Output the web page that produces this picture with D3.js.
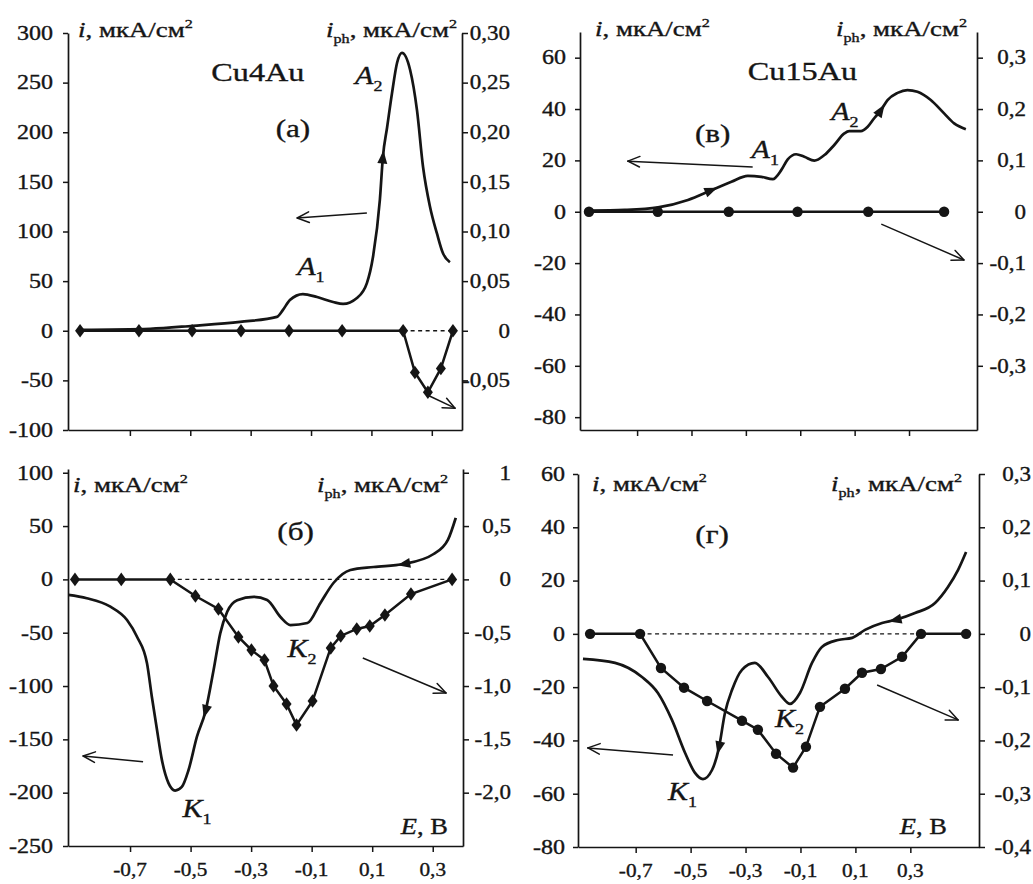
<!DOCTYPE html>
<html><head><meta charset="utf-8">
<script src="https://cdn.jsdelivr.net/npm/d3@7"></script>
<style>body{margin:0;background:#fff} svg{display:block}</style>
</head><body>
<svg id="c" width="1033" height="884"></svg>
<script>
// ---------------- DATA ----------------
const xTicks = [-0.7, -0.5, -0.3, -0.1, 0.1, 0.3];
const xTickLabels = ["-0,7", "-0,5", "-0,3", "-0,1", "0,1", "0,3"];

// Panel (а) Cu4Au anodic
const aLeftTicks = [300, 250, 200, 150, 100, 50, 0, -50, -100];
const aLeftLabels = ["300", "250", "200", "150", "100", "50", "0", "-50", "-100"];
const aRightTicks = [0.30, 0.25, 0.20, 0.15, 0.10, 0.05, 0, -0.05];
const aRightLabels = ["0,30", "0,25", "0,20", "0,15", "0,10", "0,05", "0", "-0,05"];
const aCurrent = [[-0.865,1],[-0.633,2],[-0.491,5],[-0.335,9],[-0.213,14],[-0.193,21],[-0.17,31],[-0.127,37],
  [-0.08,34],[-0.027,29],[0.006,27],[0.052,33],[0.085,48],[0.105,74],[0.128,132],[0.138,175],[0.152,205],
  [0.168,239],[0.185,270],[0.201,280],[0.228,263],[0.251,222],[0.271,165],[0.294,125],[0.317,98],[0.337,78],[0.36,69]];
const aPhoto = [[-0.865,0],[-0.67,0],[-0.494,0],[-0.332,0],[-0.173,0],[0.003,0],[0.205,0],[0.244,-0.042],
  [0.287,-0.062],[0.33,-0.038],[0.37,0]];
const aDash = [0.205, 0.37];
const aDirArrows = [[0.138, 1]];
const aPointers = [[[0.085,118.6],[-0.146,113.6]], [[0.287,-65],[0.377,-78]]];

// Panel (в) Cu15Au anodic
const vLeftTicks = [60, 40, 20, 0, -20, -40, -60, -80];
const vLeftLabels = ["60", "40", "20", "0", "-20", "-40", "-60", "-80"];
const vRightTicks = [0.3, 0.2, 0.1, 0, -0.1, -0.2, -0.3];
const vRightLabels = ["0,3", "0,2", "0,1", "0", "-0,1", "-0,2", "-0,3"];
const vCurrent = [[-0.877,0.4],[-0.745,0.7],[-0.623,1.7],[-0.513,4.6],[-0.427,8.4],[-0.353,11.7],[-0.293,14.0],
  [-0.243,13.6],[-0.201,12.7],[-0.17,16.2],[-0.146,20.4],[-0.115,22.4],[-0.085,21.4],[-0.048,19.9],[-0.011,22.1],
  [0.025,26],[0.062,30.5],[0.08,31.4],[0.123,31.4],[0.148,33.1],[0.172,36.4],[0.197,39.6],[0.221,43.5],
  [0.258,46.3],[0.294,47.4],[0.331,46.7],[0.38,43.5],[0.429,38.3],[0.466,34.4],[0.509,32.1]];
const vPhoto = [[-0.877,0],[-0.624,0],[-0.363,0],[-0.11,0],[0.15,0],[0.429,0]];
const vDirArrows = [[-0.427, 1], [0.197, 1]];
const vPointers = [[[-0.275,17.4],[-0.734,19.7]], [[0.198,-4.8],[0.502,-18.8]]];

// Panel (б) Cu4Au cathodic
const bLeftTicks = [100, 50, 0, -50, -100, -150, -200, -250];
const bLeftLabels = ["100", "50", "0", "-50", "-100", "-150", "-200", "-250"];
const bRightTicks = [1, 0.5, 0, -0.5, -1.0, -1.5, -2.0];
const bRightLabels = ["1", "0,5", "0", "-0,5", "-1,0", "-1,5", "-2,0"];
const bCurrent = [[-0.904,-14.6],[-0.843,-17.7],[-0.765,-25.6],[-0.71,-38.1],[-0.677,-53.8],[-0.644,-78.7],
  [-0.628,-110],[-0.611,-141],[-0.595,-169],[-0.573,-191],[-0.551,-198],[-0.529,-194.6],[-0.507,-179],
  [-0.479,-147.5],[-0.451,-124],[-0.424,-85],[-0.402,-50.6],[-0.379,-30.3],[-0.346,-19.5],[-0.291,-16.4],
  [-0.247,-19.3],[-0.203,-35.3],[-0.17,-42.8],[-0.114,-40.9],[-0.071,-22.1],[-0.028,-3.4],[0.028,8.8],
  [0.105,11.6],[0.204,14.4],[0.303,23.8],[0.35,37],[0.376,57.6]];
const bPhoto = [[-0.882,0],[-0.729,0],[-0.567,0],[-0.484,-0.156],[-0.408,-0.278],[-0.342,-0.54],[-0.299,-0.662],
  [-0.256,-0.756],[-0.226,-0.999],[-0.183,-1.168],[-0.15,-1.365],[-0.097,-1.14],[-0.037,-0.643],[-0.004,-0.53],
  [0.049,-0.465],[0.092,-0.437],[0.142,-0.334],[0.228,-0.137],[0.364,0]];
const bDash = [-0.567, 0.364];
const bDirArrows = [[-0.451, -1], [0.204, -1]];
const bPointers = [[[-0.657,-171],[-0.855,-165.6]], [[0.069,-73.7],[0.344,-106.5]]];

// Panel (г) Cu15Au cathodic
const gLeftTicks = [60, 40, 20, 0, -20, -40, -60, -80];
const gLeftLabels = ["60", "40", "20", "0", "-20", "-40", "-60", "-80"];
const gRightTicks = [0.3, 0.2, 0.1, 0, -0.1, -0.2, -0.3, -0.4];
const gRightLabels = ["0,3", "0,2", "0,1", "0", "-0,1", "-0,2", "-0,3", "-0,4"];
const gCurrent = [[-0.892,-9.4],[-0.775,-10.9],[-0.677,-16.2],[-0.619,-22.2],[-0.568,-32.3],[-0.52,-44.7],
  [-0.484,-52.2],[-0.455,-54.5],[-0.422,-51.1],[-0.397,-42.8],[-0.375,-29.7],[-0.349,-21],[-0.313,-13.5],
  [-0.266,-10.9],[-0.218,-16.2],[-0.167,-23.7],[-0.138,-26.3],[-0.102,-22.2],[-0.058,-10.9],[-0.022,-4.9],
  [0.037,-2.3],[0.088,-1.5],[0.135,1.5],[0.197,4.1],[0.244,5.2],[0.317,7.8],[0.39,11.6],[0.437,17.6],
  [0.474,24],[0.503,30.7]];
const gPhoto = [[-0.866,0],[-0.684,0],[-0.608,-0.064],[-0.524,-0.101],[-0.44,-0.126],[-0.313,-0.163],
  [-0.255,-0.18],[-0.189,-0.225],[-0.127,-0.251],[-0.08,-0.212],[-0.029,-0.137],[0.062,-0.103],
  [0.124,-0.073],[0.193,-0.066],[0.27,-0.043],[0.339,0],[0.503,0]];
const gDash = [-0.684, 0.339];
const gDirArrows = [[-0.397, -1], [0.244, -1]];
const gPointers = [[[-0.564,-45.5],[-0.874,-42.8]], [[0.179,-19.2],[0.474,-32.3]]];

// ---------------- DRAWING ----------------
const FONT = "'Liberation Serif','Times New Roman',Times,serif";
const INK = "#151515";
const svg = d3.select('#c');

function rich(g, x, y, parts, size, anchor, sx) {
  const t = g.append('text')
    .attr('transform', `translate(${x},${y}) scale(${sx || 1.2},1)`)
    .attr('font-family', FONT).attr('font-size', size)
    .attr('text-anchor', anchor || 'start').attr('fill', INK)
    .attr('stroke', INK).attr('stroke-width', 0.35);
  let cur = 0;
  parts.forEach(p => {
    const ts = t.append('tspan').text(p.t);
    if (p.i) ts.attr('font-style', 'italic');
    let off = 0;
    if (p.sub) off = size * 0.28;
    if (p.sup) off = -size * 0.42;
    if (p.sub || p.sup) ts.attr('font-size', size * 0.6);
    if (off !== cur) { ts.attr('dy', off - cur); cur = off; }
  });
  return t;
}

function panel(c) {
  const g = svg.append('g');
  const x = d3.scaleLinear().domain(c.xDom).range([c.x0, c.x1]);
  const yL = d3.scaleLinear().domain(c.yLDom).range([c.y1, c.y0]);
  const yR = d3.scaleLinear().domain(c.yRDom).range([c.y1, c.y0]);

  const styleAxis = sel => {
    sel.select('.domain').attr('stroke', INK).attr('stroke-width', 1.7);
    sel.selectAll('.tick line').attr('stroke', INK).attr('stroke-width', 1.5);
    sel.selectAll('.tick text').remove();
  };
  g.append('g').attr('transform', `translate(${c.x0},0)`)
    .call(d3.axisLeft(yL).tickValues(c.lTicks).tickSize(5).tickSizeOuter(0)).call(styleAxis);
  g.append('g').attr('transform', `translate(${c.x1},0)`)
    .call(d3.axisRight(yR).tickValues(c.rTicks).tickSize(6).tickSizeOuter(0)).call(styleAxis);
  g.append('g').attr('transform', `translate(0,${c.y1})`)
    .call(d3.axisBottom(x).tickValues(xTicks).tickSize(6).tickSizeOuter(0)).call(styleAxis);

  c.lTicks.forEach((v, k) => rich(g, c.x0 - c.lGap, yL(v) + 6.8, [{t: c.lLabels[k]}], 20, 'end', 1.2));
  c.rTicks.forEach((v, k) => rich(g, c.rLabelX, yR(v) + 6.8, [{t: c.rLabels[k]}], 20, 'end', 1.15));
  if (c.xLabels) xTicks.forEach((v, k) => rich(g, x(v), c.y1 + 30, [{t: xTickLabels[k]}], 19, 'middle', 1.12));

  // axis titles
  rich(g, c.x0 + c.tL, c.y0 + c.tY, [{t: 'i', i: 1}, {t: ', мкА/см'}, {t: '2', sup: 1}], 21, 'start', 1.28);
  rich(g, c.x1 - c.tR, c.y0 + c.tY, [{t: 'i', i: 1}, {t: 'ph', sub: 1}, {t: ', мкА/см'}, {t: '2', sup: 1}], 21, 'end', 1.28);

  // dashed zero line
  if (c.dash) g.append('line').attr('x1', x(c.dash[0])).attr('x2', x(c.dash[1]))
    .attr('y1', yR(0)).attr('y2', yR(0)).attr('stroke', INK).attr('stroke-width', 1.3)
    .attr('stroke-dasharray', '4,3.5');

  // photocurrent
  const pl = d3.line().x(d => x(d[0])).y(d => yR(d[1]));
  g.append('path').attr('d', pl(c.photo)).attr('fill', 'none').attr('stroke', INK).attr('stroke-width', 2.5);
  if (c.marker === 'diamond') {
    g.selectAll('.mk').data(c.photo).enter().append('path')
      .attr('d', 'M0,-6.8L5,0L0,6.8L-5,0Z')
      .attr('transform', d => `translate(${x(d[0])},${yR(d[1])})`).attr('fill', INK);
  } else {
    g.selectAll('.mk').data(c.photo).enter().append('circle')
      .attr('cx', d => x(d[0])).attr('cy', d => yR(d[1])).attr('r', 5.2).attr('fill', INK);
  }

  // current curve
  const cl = d3.line().x(d => x(d[0])).y(d => yL(d[1])).curve(d3.curveMonotoneX);
  const path = g.append('path').attr('d', cl(c.current)).attr('fill', 'none')
    .attr('stroke', INK).attr('stroke-width', 2.7).attr('stroke-linejoin', 'round');
  const node = path.node();
  const L = node.getTotalLength();
  c.dirs.forEach(([e, dir]) => {
    const px = x(e);
    let lo = 0, hi = L;
    for (let k = 0; k < 40; k++) { const m = (lo + hi) / 2; if (node.getPointAtLength(m).x < px) lo = m; else hi = m; }
    const p = node.getPointAtLength(lo);
    const q = node.getPointAtLength(Math.max(0, Math.min(L, lo + dir * 4)));
    let ux = q.x - p.x, uy = q.y - p.y; const n = Math.hypot(ux, uy) || 1; ux /= n; uy /= n;
    const tip = [p.x + ux * 6.5, p.y + uy * 6.5], b = [p.x - ux * 6.5, p.y - uy * 6.5];
    g.append('path').attr('d', `M${tip[0]},${tip[1]}L${b[0] - uy * 5},${b[1] + ux * 5}L${b[0] + uy * 5},${b[1] - ux * 5}Z`)
      .attr('fill', INK);
  });

  // pointer arrows
  c.pointers.forEach(([s, e]) => {
    const x1 = x(s[0]), y1 = yL(s[1]), x2 = x(e[0]), y2 = yL(e[1]);
    g.append('line').attr('x1', x1).attr('y1', y1).attr('x2', x2).attr('y2', y2)
      .attr('stroke', INK).attr('stroke-width', 1.5);
    const a = Math.atan2(y2 - y1, x2 - x1);
    [0.42, -0.42].forEach(d => {
      g.append('line').attr('x1', x2).attr('y1', y2)
        .attr('x2', x2 - 13 * Math.cos(a + d)).attr('y2', y2 - 13 * Math.sin(a + d))
        .attr('stroke', INK).attr('stroke-width', 1.5).attr('stroke-linecap', 'round');
    });
  });

  // labels
  c.labels.forEach(l => rich(g, x(l.e), yL(l.v), l.parts, l.size, l.anchor, l.sx));
}

panel({x0: 68, x1: 462, y0: 33, y1: 430, xDom: [-0.905, 0.4], yLDom: [-100, 300], yRDom: [-0.1, 0.3],
  lTicks: aLeftTicks, lLabels: aLeftLabels, rTicks: aRightTicks, rLabels: aRightLabels, lGap: 15, rLabelX: 510,
  tL: 10, tR: 5, tY: 4, dash: aDash, photo: aPhoto, marker: 'diamond', current: aCurrent, dirs: aDirArrows,
  pointers: aPointers,
  labels: [
    {e: -0.276, v: 252, parts: [{t: 'Cu4Au'}], size: 26, anchor: 'middle', sx: 1.24},
    {e: -0.16, v: 195, parts: [{t: '(а)'}], size: 26, anchor: 'middle', sx: 1.2},
    {e: 0.046, v: 249, parts: [{t: 'A', i: 1}, {t: '2', sub: 1}], size: 25, anchor: 'start', sx: 1.2},
    {e: -0.146, v: 56, parts: [{t: 'A', i: 1}, {t: '1', sub: 1}], size: 25, anchor: 'start', sx: 1.2}
  ]});

panel({x0: 580, x1: 977, y0: 32, y1: 430, xDom: [-0.91, 0.55], yLDom: [-85, 70], yRDom: [-0.425, 0.35],
  lTicks: vLeftTicks, lLabels: vLeftLabels, rTicks: vRightTicks, rLabels: vRightLabels, lGap: 14, rLabelX: 1026,
  tL: 15, tR: 10, tY: 4, dash: null, photo: vPhoto, marker: 'circle', current: vCurrent, dirs: vDirArrows,
  pointers: vPointers,
  labels: [
    {e: -0.092, v: 51.3, parts: [{t: 'Cu15Au'}], size: 26, anchor: 'middle', sx: 1.24},
    {e: -0.422, v: 27.1, parts: [{t: '(в)'}], size: 26, anchor: 'middle', sx: 1.2},
    {e: -0.279, v: 20.9, parts: [{t: 'A', i: 1}, {t: '1', sub: 1}], size: 25, anchor: 'start', sx: 1.2},
    {e: 0.014, v: 35.7, parts: [{t: 'A', i: 1}, {t: '2', sub: 1}], size: 25, anchor: 'start', sx: 1.2}
  ]});

panel({x0: 68, x1: 463, y0: 469, y1: 846, xDom: [-0.905, 0.4], yLDom: [-250, 103.5], yRDom: [-2.5, 1.035],
  lTicks: bLeftTicks, lLabels: bLeftLabels, rTicks: bRightTicks, rLabels: bRightLabels, lGap: 15, rLabelX: 511,
  tL: 5, tR: 15, tY: 23, dash: bDash, photo: bPhoto, marker: 'diamond', current: bCurrent, dirs: bDirArrows,
  pointers: bPointers, xLabels: true,
  labels: [
    {e: -0.153, v: 37, parts: [{t: '(б)'}], size: 26, anchor: 'middle', sx: 1.2},
    {e: -0.527, v: -222.8, parts: [{t: 'K', i: 1}, {t: '1', sub: 1}], size: 25, anchor: 'start', sx: 1.2},
    {e: -0.18, v: -72.8, parts: [{t: 'K', i: 1}, {t: '2', sub: 1}], size: 25, anchor: 'start', sx: 1.2},
    {e: 0.35, v: -238.7, parts: [{t: 'E', i: 1}, {t: ', В'}], size: 23, anchor: 'end', sx: 1.15}
  ]});

panel({x0: 578, x1: 979, y0: 474, y1: 847, xDom: [-0.91, 0.55], yLDom: [-80, 60], yRDom: [-0.4, 0.3],
  lTicks: gLeftTicks, lLabels: gLeftLabels, rTicks: gRightTicks, rLabels: gRightLabels, lGap: 13, rLabelX: 1031,
  tL: 14, tR: 17, tY: 17, dash: gDash, photo: gPhoto, marker: 'circle', current: gCurrent, dirs: gDirArrows,
  pointers: gPointers, xLabels: true,
  labels: [
    {e: -0.422, v: 34.1, parts: [{t: '(г)'}], size: 26, anchor: 'middle', sx: 1.2},
    {e: -0.582, v: -62.3, parts: [{t: 'K', i: 1}, {t: '1', sub: 1}], size: 25, anchor: 'start', sx: 1.2},
    {e: -0.193, v: -35, parts: [{t: 'K', i: 1}, {t: '2', sub: 1}], size: 25, anchor: 'start', sx: 1.2},
    {e: 0.433, v: -75, parts: [{t: 'E', i: 1}, {t: ', В'}], size: 23, anchor: 'end', sx: 1.15}
  ]});
</script>
</body></html>
